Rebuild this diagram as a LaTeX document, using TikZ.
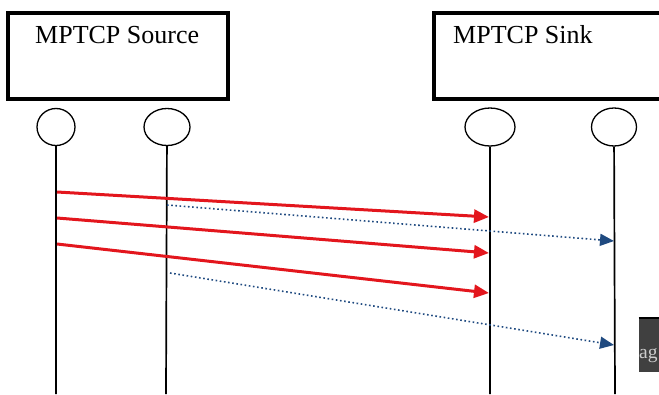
\documentclass[tikz,border=0pt]{standalone}
\usepackage{fontspec}
\setmainfont{Liberation Serif}
\usetikzlibrary{shapes.geometric, arrows.meta}
\definecolor{pathred}{HTML}{E3161D}
\definecolor{pathblue}{HTML}{1F4A80}
\tikzset{
        x=1pt, y=-1pt,
        host/.style={draw, line width=3.2pt, minimum width=220, minimum height=86}, % the two end hosts
        port/.style={draw, ellipse, line width=1.3pt}, % one per subflow
        life/.style={line width=1.7pt},
        fast/.style={-{Triangle[length=15pt, width=13pt]}, line width=3pt, pathred}, % subflow 1
        slow/.style={-{Triangle[length=14pt, width=12pt]}, line width=1.6pt, pathblue,
                     dash pattern=on 1.6pt off 2.6pt}, % subflow 2
        hostname/.style={font=\fontsize{26}{28}\selectfont, inner sep=0pt, anchor=base west}
        }
\begin{document}
\begin{tikzpicture}
        \clip (0,0) rectangle (659,394);
        \node[host](src) at (118,56){};
        \node[host, minimum width=250](snk) at (559,56){};
        \node[hostname](srcname) at (35,43){MPTCP Source};
        \node[hostname](snkname) at (453,43){MPTCP Sink};
        \node[port, minimum width=38, minimum height=37](p0) at (56,127){};
        \node[port, minimum width=46, minimum height=37](p1) at (167,127){};
        \node[port, minimum width=50, minimum height=38](p2) at (490,127){};
        \node[port, minimum width=45, minimum height=38](p3) at (614,127){};
        \coordinate (e0) at (56,394);
        \coordinate (e1) at (166,394);
        \coordinate (e2) at (490,394);
        \coordinate (e3) at (615,394);
        \draw[life] (p0) -- (e0) (p1) -- (e1) (p2) -- (e2) (p3) -- (e3);
        % red subflow
        \coordinate (a0) at (57,192);   \coordinate (b0) at (489,217);
        \coordinate (a1) at (57,218);   \coordinate (b1) at (489,253);
        \coordinate (a2) at (57,244);   \coordinate (b2) at (489,293);
        \draw[fast] (a0) -- (b0);
        \draw[fast] (a1) -- (b1);
        \draw[fast] (a2) -- (b2);
        % blue subflow
        \coordinate (c0) at (167,205);  \coordinate (d0) at (614,241);
        \coordinate (c1) at (170,273);  \coordinate (d1) at (614,345);
        \draw[slow] (c0) -- (d0);
        \draw[slow] (c1) -- (d1);
        \fill[black!75] (638.5,318) rectangle (670,372);
        \draw[line width=1.4pt] (638.5,318) -- (670,318);
        \node[hostname, font=\fontsize{19.5}{22}\selectfont, text=black!20](tag) at (639,358){ag};
\end{tikzpicture}
\end{document}
